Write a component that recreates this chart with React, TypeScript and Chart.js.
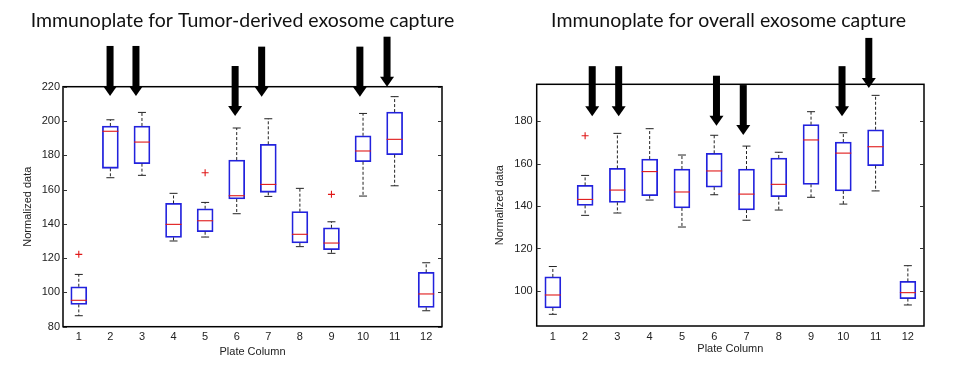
import React, { useEffect, useRef } from 'react';
import { Chart, registerables } from 'chart.js';

Chart.register(...registerables);

// ---------- shared ----------
const plateColumns = ['1', '2', '3', '4', '5', '6', '7', '8', '9', '10', '11', '12'];

// ---------- left: tumor-derived exosome capture ----------
const tumorTitle = 'Immunoplate for Tumor-derived exosome capture';
const tumorWhiskerLow = [86.4, 166.9, 168.3, 130.0, 132.3, 145.9, 156.0, 126.7, 122.8, 156.2, 162.2, 89.3];
const tumorQ1 = [93.0, 172.4, 175.1, 132.1, 135.4, 154.5, 158.4, 128.8, 124.9, 176.2, 180.3, 91.3];
const tumorMedian = [95.4, 194.0, 187.7, 139.7, 141.8, 156.4, 163.0, 133.9, 128.8, 182.5, 189.3, 99.1];
const tumorQ3 = [103.3, 197.1, 197.1, 151.9, 148.8, 177.2, 186.4, 147.1, 137.7, 191.4, 205.2, 111.7];
const tumorWhiskerHigh = [110.5, 200.7, 205.0, 157.8, 152.5, 195.9, 201.3, 160.7, 141.2, 204.4, 214.2, 117.3];
const tumorOutliers = [122.2, null, null, null, 169.8, null, null, null, 157.2, null, null, null];
const tumorArrowColumns = [1.99, 2.81, 5.95, 6.79, 9.9, 10.76];
const tumorArrowTips = [214.6, 214.6, 202.9, 214.2, 214.2, 220.0];
const tumorYTicks = [80, 100, 120, 140, 160, 180, 200, 220];
const tumorYMin = 80;
const tumorYMax = 220;

// ---------- right: overall exosome capture ----------
const overallTitle = 'Immunoplate for overall exosome capture';
const overallWhiskerLow = [89.0, 135.6, 136.7, 142.8, 130.1, 145.3, 133.3, 138.1, 144.1, 140.9, 147.1, 93.4];
const overallQ1 = [92.0, 140.3, 141.7, 144.9, 139.1, 148.9, 138.1, 144.4, 150.2, 147.1, 159.0, 96.4];
const overallMedian = [98.1, 143.1, 147.5, 156.2, 146.6, 156.5, 145.6, 150.2, 171.1, 164.9, 167.9, 99.2];
const overallQ3 = [106.6, 149.7, 157.7, 162.1, 157.4, 164.8, 157.4, 162.6, 178.3, 170.1, 175.9, 104.5];
const overallWhiskerHigh = [111.5, 154.4, 174.2, 176.4, 164.0, 173.3, 168.2, 165.3, 184.4, 174.5, 192.1, 111.9];
const overallOutliers = [null, 173.1, null, null, null, null, null, null, null, null, null, null];
const overallArrowColumns = [2.22, 3.04, 6.07, 6.9, 9.96, 10.79];
const overallArrowTips = [182.3, 182.3, 177.8, 173.4, 182.3, 195.6];
const overallYTicks = [100, 120, 140, 160, 180];
const overallYMin = 83.5;
const overallYMax = 197.3;

const AXIS_FONT = "'Liberation Sans', Arial, sans-serif";
const TITLE_FONT = "Lato, 'Open Sans', sans-serif";

const boxExtras = {
  id: 'boxExtras',
  afterDatasetsDraw(chart: any, _args: any, opts: any) {
    const ctx = chart.ctx;
    const xs = chart.scales.x;
    const ys = chart.scales.y;
    const area = chart.chartArea;
    ctx.save();
    // frame
    ctx.strokeStyle = '#000';
    ctx.lineWidth = 1.5;
    ctx.setLineDash([]);
    ctx.strokeRect(area.left, area.top, area.right - area.left, area.bottom - area.top);
    // inner y ticks on both sides
    ctx.lineWidth = 1;
    ctx.strokeStyle = '#333';
    (opts.yTicks || []).forEach((v: number) => {
      const y = Math.round(ys.getPixelForValue(v)) + 0.5;
      ctx.beginPath();
      ctx.moveTo(area.left, y);
      ctx.lineTo(area.left + 4, y);
      ctx.moveTo(area.right, y);
      ctx.lineTo(area.right - 4, y);
      ctx.stroke();
    });
    const halfBox = 8;
    const halfCap = 4;
    opts.median.forEach((m: number, i: number) => {
      const x = xs.getPixelForValue(i);
      const yLow = ys.getPixelForValue(opts.low[i]);
      const yQ1 = ys.getPixelForValue(opts.q1[i]);
      const yQ3 = ys.getPixelForValue(opts.q3[i]);
      const yHigh = ys.getPixelForValue(opts.high[i]);
      const yMed = ys.getPixelForValue(m);
      // whiskers (dashed)
      ctx.strokeStyle = '#222';
      ctx.lineWidth = 1;
      ctx.setLineDash([3, 2]);
      ctx.beginPath();
      ctx.moveTo(x, yQ3);
      ctx.lineTo(x, yHigh);
      ctx.moveTo(x, yQ1);
      ctx.lineTo(x, yLow);
      ctx.stroke();
      // caps
      ctx.setLineDash([]);
      ctx.beginPath();
      ctx.moveTo(x - halfCap, yHigh);
      ctx.lineTo(x + halfCap, yHigh);
      ctx.moveTo(x - halfCap, yLow);
      ctx.lineTo(x + halfCap, yLow);
      ctx.stroke();
      // median
      ctx.strokeStyle = '#e01818';
      ctx.lineWidth = 1.1;
      ctx.beginPath();
      ctx.moveTo(x - halfBox, yMed);
      ctx.lineTo(x + halfBox, yMed);
      ctx.stroke();
    });
    ctx.restore();
  },
  afterDraw(chart: any, _args: any, opts: any) {
    const ctx = chart.ctx;
    const xs = chart.scales.x;
    const ys = chart.scales.y;
    ctx.save();
    // main title
    ctx.fillStyle = '#111';
    ctx.font = `normal 19.5px ${TITLE_FONT}`;
    ctx.textAlign = 'center';
    ctx.textBaseline = 'alphabetic';
    ctx.fillText(opts.title, opts.titleX, opts.titleY);
    // arrows
    ctx.fillStyle = '#000';
    (opts.arrowColumns || []).forEach((c: number, i: number) => {
      const x = xs.getPixelForValue(c - 1);
      const tip = ys.getPixelForValue(opts.arrowTips[i]);
      const len = 50;
      const headH = 10;
      const shaftW = 7;
      const headW = 14;
      ctx.fillRect(x - shaftW / 2, tip - len, shaftW, len - headH + 1);
      ctx.beginPath();
      ctx.moveTo(x - headW / 2, tip - headH);
      ctx.lineTo(x + headW / 2, tip - headH);
      ctx.lineTo(x, tip);
      ctx.closePath();
      ctx.fill();
    });
    ctx.restore();
  },
};

type BoxProps = {
  title: string;
  low: number[];
  q1: number[];
  median: number[];
  q3: number[];
  high: number[];
  outliers: (number | null)[];
  arrowColumns: number[];
  arrowTips: number[];
  yTicks: number[];
  yMin: number;
  yMax: number;
  layout: {
    titleX: number;
    titleY: number;
    padTop: number;
    padRight: number;
    yAxisWidth: number;
    yTitlePad: number;
    yTickPad: number;
    xAxisHeight: number;
    xTitlePad: number;
  };
};

function BoxChart(p: BoxProps) {
  const ref = useRef<HTMLCanvasElement | null>(null);
  useEffect(() => {
    if (!ref.current) return;
    const L = p.layout;
    const chart = new Chart(ref.current, {
      type: 'bar',
      data: {
        labels: plateColumns,
        datasets: [
          {
            type: 'bar',
            data: p.q1.map((v, i) => [v, p.q3[i]]) as any,
            backgroundColor: 'rgba(0,0,0,0)',
            borderColor: '#2222dd',
            borderWidth: 1.1,
            borderSkipped: false,
            barThickness: 16,
          } as any,
          {
            type: 'line',
            data: p.outliers as any,
            showLine: false,
            pointStyle: 'cross',
            pointRadius: 3.5,
            borderColor: '#e01818',
            backgroundColor: '#e01818',
            pointBorderWidth: 1.1,
          } as any,
        ],
      },
      options: {
        responsive: false,
        animation: false,
        devicePixelRatio: 1,
        layout: { padding: { left: 0, right: L.padRight, top: L.padTop, bottom: 0 } },
        plugins: {
          legend: { display: false },
          tooltip: { enabled: false },
          title: { display: false },
          boxExtras: {
            title: p.title,
            titleX: L.titleX,
            titleY: L.titleY,
            low: p.low,
            q1: p.q1,
            median: p.median,
            q3: p.q3,
            high: p.high,
            arrowColumns: p.arrowColumns,
            arrowTips: p.arrowTips,
            yTicks: p.yTicks,
          },
        } as any,
        scales: {
          x: {
            type: 'category',
            offset: true,
            grid: { display: false, drawTicks: false },
            border: { display: false },
            ticks: { color: '#222', font: { family: AXIS_FONT, size: 11 }, padding: 4, maxRotation: 0 },
            title: {
              display: true,
              text: 'Plate Column',
              color: '#222',
              font: { family: AXIS_FONT, size: 11 },
              padding: { top: 0, bottom: L.xTitlePad },
            },
            afterFit: (s: any) => {
              s.height = L.xAxisHeight;
            },
          },
          y: {
            type: 'linear',
            min: p.yMin,
            max: p.yMax,
            grid: { display: false, drawTicks: false },
            border: { display: false },
            ticks: { color: '#222', font: { family: AXIS_FONT, size: 11 }, padding: L.yTickPad },
            afterBuildTicks: (s: any) => {
              s.ticks = p.yTicks.map((v) => ({ value: v }));
            },
            title: {
              display: true,
              text: 'Normalized data',
              color: '#222',
              font: { family: AXIS_FONT, size: 11 },
              padding: { top: L.yTitlePad, bottom: 0 },
            },
            afterFit: (s: any) => {
              s.width = L.yAxisWidth;
            },
          },
        },
      } as any,
      plugins: [boxExtras as any],
    });
    return () => chart.destroy();
  }, []);
  return <canvas ref={ref} width={489} height={377} style={{ display: 'block' }} />;
}

export default function App() {
  return (
    <div style={{ position: 'absolute', left: 0, top: 0, width: 978, height: 377, background: '#fff', overflow: 'hidden' }}>
      <div style={{ position: 'absolute', left: 0, top: 0 }}>
        <BoxChart
          title={tumorTitle}
          low={tumorWhiskerLow}
          q1={tumorQ1}
          median={tumorMedian}
          q3={tumorQ3}
          high={tumorWhiskerHigh}
          outliers={tumorOutliers}
          arrowColumns={tumorArrowColumns}
          arrowTips={tumorArrowTips}
          yTicks={tumorYTicks}
          yMin={tumorYMin}
          yMax={tumorYMax}
          layout={{
            titleX: 242.5,
            titleY: 27,
            padTop: 86.7,
            padRight: 47,
            yAxisWidth: 63,
            yTitlePad: 21.4,
            yTickPad: 3,
            xAxisHeight: 50.3,
            xTitlePad: 18.7,
          }}
        />
      </div>
      <div style={{ position: 'absolute', left: 489, top: 0 }}>
        <BoxChart
          title={overallTitle}
          low={overallWhiskerLow}
          q1={overallQ1}
          median={overallMedian}
          q3={overallQ3}
          high={overallWhiskerHigh}
          outliers={overallOutliers}
          arrowColumns={overallArrowColumns}
          arrowTips={overallArrowTips}
          yTicks={overallYTicks}
          yMin={overallYMin}
          yMax={overallYMax}
          layout={{
            titleX: 239.5,
            titleY: 27,
            padTop: 84.3,
            padRight: 54,
            yAxisWidth: 47.7,
            yTitlePad: 4.4,
            yTickPad: 4,
            xAxisHeight: 51,
            xTitlePad: 21.4,
          }}
        />
      </div>
    </div>
  );
}
